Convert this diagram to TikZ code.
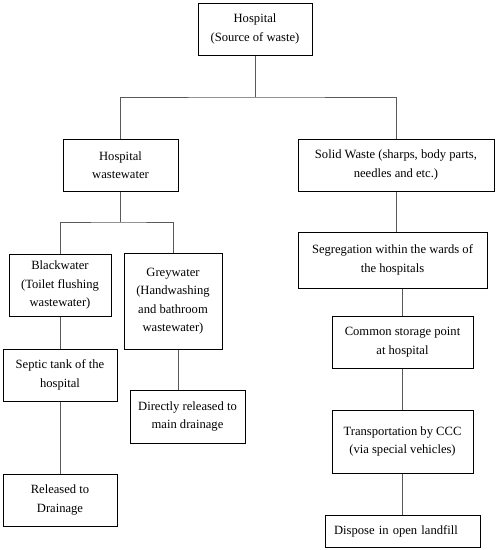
\documentclass[tikz,border=0pt]{standalone}
\usepackage{fontspec}
\setmainfont{Liberation Serif}
\begin{document}
\begin{tikzpicture}[x=1pt,y=-1pt,
  box/.style={draw=black,line width=1.0pt,align=center,inner sep=0pt,font=\fontsize{12.6}{18.5}\selectfont},
  link/.style={draw=black!65,line width=0.9pt}]
\useasboundingbox (0,0) rectangle (497,550);
\node[box,minimum width=114,minimum height=52] (hosp) at (255,29) {Hospital\\(Source of waste)};
\node[box,minimum width=115,minimum height=52] (ww) at (120.5,165) {Hospital\\wastewater};
\node[box,minimum width=196,minimum height=52] (solid) at (396,165) {Solid Waste (sharps, body parts,\\needles and etc.)};
\node[box,minimum width=102,minimum height=62] (black) at (60,285) {Blackwater\\(Toilet flushing\\wastewater)};
\node[box,minimum width=98,minimum height=96] (grey) at (173,301) {Greywater\\(Handwashing\\and bathroom\\wastewater)};
\node[box,minimum width=114,minimum height=52] (septic) at (60,375) {Septic tank of the\\hospital};
\node[box,minimum width=114,minimum height=52] (rel) at (60,500) {Released to\\Drainage};
\node[box,minimum width=115,minimum height=53] (direct) at (187.5,416.5) {Directly released to\\main drainage};
\node[box,minimum width=189,minimum height=56] (seg) at (392.5,260) {Segregation within the wards of\\the hospitals};
\node[box,minimum width=141,minimum height=52] (store) at (402.5,342) {Common storage point\\at hospital};
\node[box,minimum width=141,minimum height=63] (trans) at (402.5,441.5) {Transportation by CCC\\(via special vehicles)};
\node[box,minimum width=155,minimum height=32,text width=137,align=left,inner xsep=9pt] (disp) at (402.5,531) {Dispose in open landfill};
\coordinate (bar) at (255,97);
\coordinate (bar2) at (120.5,222);
\draw[link] (hosp.south) -- (bar);
\draw[link] (ww.north) |- (bar) -| (solid.north);
\draw[link] (ww.south) -- (bar2);
\draw[link] (black.north) |- (bar2) -| (grey.north);
\draw[link] (black.south) -- (septic.north);
\draw[link] (septic.south) -- (rel.north);
\draw[link] ([xshift=5]grey.south) -- ([xshift=5]grey.south |- direct.north);
\draw[link] (solid.south) -- (solid.south |- seg.north);
\draw[link] (store.north |- seg.south) -- (store.north);
\draw[link] (store.south) -- (trans.north);
\draw[link] (trans.south) -- (disp.north);
\end{tikzpicture}
\end{document}
